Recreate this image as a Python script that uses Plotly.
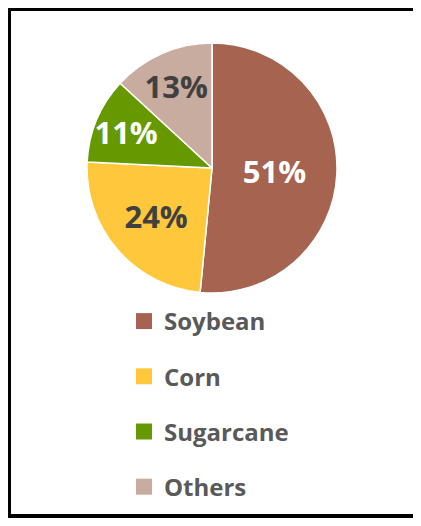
import plotly.graph_objects as go

crops = ["Soybean", "Corn", "Sugarcane", "Others"]
shares = [51, 24, 11, 13]
colours = ["#A66450", "#FFC83C", "#669900", "#C8AC9F"]
label_colours = ["#FFFFFF", "#404040", "#FFFFFF", "#404040"]

# the page puts the figure 8px in from the top-left corner;
# keep it small enough that the page does not scroll
W, H = 405, 510
OFF = 8

fig = go.Figure()

fig.add_trace(
    go.Pie(
        labels=crops,
        values=shares,
        sort=False,
        direction="clockwise",
        rotation=0,
        marker=dict(colors=colours, line=dict(color="white", width=1.5)),
        texttemplate="%{value}%",
        textposition="inside",
        insidetextorientation="horizontal",
        textfont=dict(family="Open Sans", size=31, color=label_colours, weight="bold"),
        domain=dict(
            x=[(87 - OFF) / W, (337 - OFF) / W],
            y=[1 - (293 - OFF) / H, 1 - (43 - OFF) / H],
        ),
        showlegend=False,
        hoverinfo="label+percent",
    )
)

# legend proxies so the entries can be spaced like the original
for crop, colour in zip(crops, colours):
    fig.add_trace(
        go.Scatter(
            x=[None],
            y=[None],
            mode="markers",
            name=crop,
            legendgroup=crop,
            marker=dict(symbol="square", size=16, color=colour),
        )
    )

fig.update_xaxes(visible=False)
fig.update_yaxes(visible=False)

# open frame: top, left and bottom edges (right edge is off the picture)
edge = dict(type="line", xref="paper", yref="paper", line=dict(color="black", width=4))

fig.update_layout(
    width=W,
    height=H,
    margin=dict(l=0, r=0, t=0, b=0),
    paper_bgcolor="white",
    plot_bgcolor="white",
    font=dict(family="Open Sans"),
    uniformtext=dict(minsize=31, mode="show"),
    legend=dict(
        x=(124 - OFF) / W,
        y=1 - (299 - OFF) / H,
        xanchor="left",
        yanchor="top",
        tracegroupgap=21,
        font=dict(family="Open Sans", size=24, color="#595959", weight="bold"),
        bgcolor="rgba(0,0,0,0)",
    ),
    shapes=[
        dict(edge, x0=0, x1=1, y0=1 - 1 / H, y1=1 - 1 / H),
        dict(edge, x0=1 / W, x1=1 / W, y0=0, y1=1),
        dict(edge, x0=0, x1=1, y0=2 / H, y1=2 / H),
    ],
)

fig.write_html("out.html")
